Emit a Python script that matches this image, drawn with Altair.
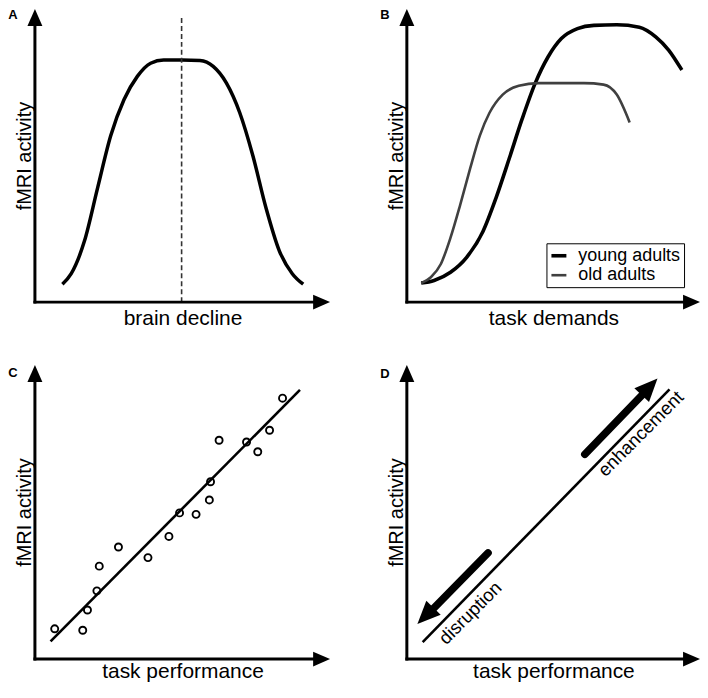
import altair as alt
import pandas as pd

FONT = "Liberation Sans"

# ---------------- data (schematic units 0-100 on both axes) ----------------
panel_letters = ["A", "B", "C", "D"]
x_titles = ["brain decline", "task demands", "task performance", "task performance"]
y_title = "fMRI activity"

# Panel A: inverted-U curve and peak marker
a_x = [9.3, 12.3, 16.8, 21.2, 25.7, 30.2, 34.7, 39.2, 43.6, 49.8, 55.9, 60.4, 64.9, 69.4, 73.8, 78.3, 82.8, 87.2, 90.9]
a_y = [6.1, 9.7, 20.9, 38.8, 56.8, 69.1, 77.0, 81.5, 82.6, 82.6, 82.4, 80.4, 74.7, 64.6, 50.1, 32.1, 17.5, 9.7, 6.1]
a_peak_x = [49.7]
a_peak_top = [97.6]

# Panel B: young vs old adults
b_groups = ["young adults", "old adults"]
b_young_x = [4.9, 9.3, 14.9, 20.4, 26.0, 30.4, 34.9, 39.3, 43.8, 48.2, 52.7, 58.2, 63.8, 71.6, 79.3, 84.9, 89.3, 93.8]
b_young_y = [6.5, 7.4, 10.2, 15.3, 24.2, 35.5, 48.9, 62.4, 74.7, 83.7, 89.9, 93.3, 94.4, 94.6, 93.8, 90.5, 86.0, 79.2]
b_old_x = [4.9, 8.2, 11.6, 14.9, 18.2, 21.6, 24.9, 28.2, 32.7, 38.2, 44.9, 60.4, 67.1, 71.6, 76.0]
b_old_y = [6.5, 8.5, 13.0, 22.0, 33.2, 45.6, 56.8, 64.6, 70.8, 73.8, 74.7, 74.7, 74.2, 70.8, 61.3]

# Panel C: scatter with fit line
c_x = [6.7, 16.2, 17.8, 21.0, 21.8, 28.3, 38.3, 45.4, 49.0, 54.6, 59.1, 59.5, 62.4, 71.7, 75.5, 79.5, 83.9]
c_y = [10.3, 9.8, 16.7, 23.2, 31.6, 38.1, 34.5, 41.7, 49.7, 49.2, 54.1, 60.3, 74.4, 73.8, 70.5, 77.8, 88.7]
c_fit_x = [5.3, 89.8]
c_fit_y = [6.0, 91.5]

# Panel D: diagonal with enhancement / disruption arrows
d_line_x = [5.4, 89.6]
d_line_y = [5.8, 91.7]
d_labels = ["enhancement", "disruption"]
d_shaft_x = [60.7, 27.7]
d_shaft_y = [69.6, 36.1]
d_shaft_x2 = [82.2, 7.2]
d_shaft_y2 = [91.8, 15.3]
d_tip_x = [85.5, 3.6]
d_tip_y = [95.4, 11.9]
d_tip_angle = [313.5, 134.6]
d_text_x = [79.8, 21.6]
d_text_y = [76.6, 15.7]

ARROW = "M0,0L-2,-0.88L-2,0.88Z"
SC = alt.Scale(domain=[0, 100], nice=False, zero=False)


def make_x(xpad):
    def X(field, title):
        return alt.X(f"{field}:Q", scale=SC, title=title, axis=alt.Axis(titlePadding=xpad))
    return X


def Y(field):
    return alt.Y(f"{field}:Q", scale=SC, title=y_title)


def frame(X, xt, letter, ly):
    axes_df = pd.DataFrame({"x": [0, 0], "y": [0, 0], "x2": [97, 0], "y2": [0, 97]})
    heads_df = pd.DataFrame({"x": [100, 0], "y": [0, 100], "a": [0, 270]})
    rules = alt.Chart(axes_df).mark_rule(strokeWidth=3, color="black", strokeCap="square").encode(
        x=X("x", xt), y=Y("y"), x2="x2:Q", y2="y2:Q")
    heads = alt.Chart(heads_df).mark_point(shape=ARROW, filled=True, size=289, color="black",
                                           opacity=1, strokeWidth=0).encode(
        x=X("x", xt), y=Y("y"), angle=alt.Angle("a:Q", scale=None))
    let = alt.Chart(pd.DataFrame({"t": [letter]})).mark_text(
        fontWeight="bold", fontSize=13, font=FONT, color="black", baseline="top").encode(
        text="t:N", x=alt.value(-22), y=alt.value(ly))
    return [rules, heads, let]


X1 = make_x(5)
X2 = make_x(1)

# ---------------- Panel A ----------------
xt = x_titles[0]
a_df = pd.DataFrame({"x": a_x, "y": a_y})
a_curve = alt.Chart(a_df).mark_line(interpolate="monotone", color="black", strokeWidth=3.5).encode(
    x=X1("x", xt), y=Y("y"))
a_dash = alt.Chart(pd.DataFrame({"x": a_peak_x, "y": [0], "y2": a_peak_top})).mark_rule(
    strokeDash=[5, 3], strokeWidth=1.6, color="#333333").encode(x=X1("x", xt), y=Y("y"), y2="y2:Q")
panelA = alt.layer(a_curve, a_dash, *frame(X1, xt, panel_letters[0], 0)).properties(width=296, height=294)

# ---------------- Panel B ----------------
xt = x_titles[1]
b_df = pd.concat([
    pd.DataFrame({"x": b_young_x, "y": b_young_y, "g": b_groups[0]}),
    pd.DataFrame({"x": b_old_x, "y": b_old_y, "g": b_groups[1]}),
])
b_lines = alt.Chart(b_df).mark_line(interpolate="monotone").encode(
    x=X1("x", xt), y=Y("y"),
    color=alt.Color("g:N", scale=alt.Scale(domain=b_groups, range=["#000000", "#404040"]),
                    legend=alt.Legend(title=None, orient="none", legendX=140, legendY=235,
                                      strokeColor="black", fillColor="white", padding=3,
                                      rowPadding=1, symbolType="stroke", symbolStrokeWidth=4,
                                      symbolSize=225, labelFontSize=18, labelFont=FONT,
                                      labelColor="black", labelOffset=10, symbolOpacity=1)),
    strokeWidth=alt.StrokeWidth("g:N", scale=alt.Scale(domain=b_groups, range=[3.6, 2.6]), legend=None),
)
panelB = alt.layer(b_lines, *frame(X1, xt, panel_letters[1], 0)).properties(width=294, height=294)

# ---------------- Panel C ----------------
xt = x_titles[2]
c_fit = alt.Chart(pd.DataFrame({"x": [c_fit_x[0]], "y": [c_fit_y[0]], "x2": [c_fit_x[1]], "y2": [c_fit_y[1]]})).mark_rule(
    strokeWidth=2.6, color="black").encode(x=X2("x", xt), y=Y("y"), x2="x2:Q", y2="y2:Q")
c_pts = alt.Chart(pd.DataFrame({"x": c_x, "y": c_y})).mark_point(
    shape="circle", size=50, strokeWidth=1.9, color="black", filled=False, opacity=1).encode(
    x=X2("x", xt), y=Y("y"))
panelC = alt.layer(c_fit, c_pts, *frame(X2, xt, panel_letters[2], 2)).properties(width=296, height=295)

# ---------------- Panel D ----------------
xt = x_titles[3]
d_line = alt.Chart(pd.DataFrame({"x": [d_line_x[0]], "y": [d_line_y[0]], "x2": [d_line_x[1]], "y2": [d_line_y[1]]})).mark_rule(
    strokeWidth=2.6, color="black").encode(x=X2("x", xt), y=Y("y"), x2="x2:Q", y2="y2:Q")
d_arr = pd.DataFrame({"label": d_labels, "x": d_shaft_x, "y": d_shaft_y, "x2": d_shaft_x2, "y2": d_shaft_y2,
                      "tx": d_tip_x, "ty": d_tip_y, "a": d_tip_angle, "lx": d_text_x, "ly": d_text_y})
d_shafts = alt.Chart(d_arr).mark_rule(strokeWidth=7.5, strokeCap="round", color="black").encode(
    x=X2("x", xt), y=Y("y"), x2="x2:Q", y2="y2:Q")
d_heads = alt.Chart(d_arr).mark_point(shape=ARROW, filled=True, size=529, color="black", opacity=1,
                                      strokeWidth=0).encode(
    x=X2("tx", xt), y=Y("ty"), angle=alt.Angle("a:Q", scale=None))
d_text = alt.Chart(d_arr).mark_text(angle=315, fontSize=18.5, font=FONT, color="black",
                                    align="center", baseline="middle").encode(
    x=X2("lx", xt), y=Y("ly"), text="label:N")
panelD = alt.layer(d_line, d_shafts, d_heads, d_text, *frame(X2, xt, panel_letters[3], 3)).properties(width=294, height=295)

row1 = alt.hconcat(panelA, panelB, spacing=50).resolve_scale(color="independent", strokeWidth="independent")
row2 = alt.hconcat(panelC, panelD, spacing=50)

chart = alt.vconcat(row1, row2, spacing=37).resolve_scale(
    color="independent", strokeWidth="independent"
).properties(padding=0, background="white").configure_view(
    stroke=None
).configure_axis(
    domain=False, ticks=False, labels=False, grid=False,
    titleFont=FONT, titleFontWeight="normal", titleColor="black",
).configure_axisX(titleFontSize=21).configure_axisY(titlePadding=0, titleFontSize=20)

chart.save("out.html", embed_options={"renderer": "svg", "actions": False})
